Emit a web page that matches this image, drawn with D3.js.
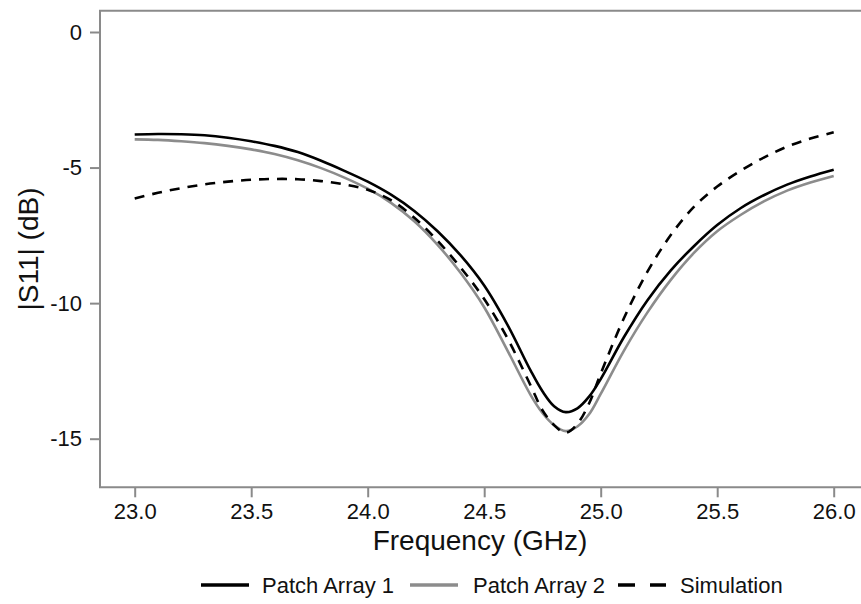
<!DOCTYPE html>
<html><head><meta charset="utf-8">
<script src="https://cdn.jsdelivr.net/npm/d3@7"></script>
<style>
html,body{margin:0;padding:0;background:#fff;}
svg{display:block;font-family:"Liberation Sans",Arial,sans-serif;}
</style></head>
<body><svg id="c" width="861" height="604"></svg>
<script>
const freq = [23.0,23.1,23.2,23.3,23.4,23.5,23.6,23.7,23.8,23.9,24.0,24.1,24.2,24.3,24.4,24.5,24.6,24.7,24.75,24.8,24.85,24.9,24.95,25.0,25.1,25.2,25.3,25.4,25.5,25.6,25.7,25.8,25.9,26.0];
const patchArray1 = [-3.78,-3.76,-3.77,-3.81,-3.90,-4.03,-4.20,-4.43,-4.75,-5.12,-5.52,-6.0,-6.6,-7.35,-8.25,-9.35,-10.8,-12.5,-13.25,-13.8,-14.02,-13.88,-13.45,-12.8,-11.25,-9.9,-8.8,-7.9,-7.12,-6.5,-6.02,-5.63,-5.33,-5.08];
const patchArray2 = [-3.96,-3.98,-4.03,-4.10,-4.20,-4.33,-4.50,-4.73,-5.02,-5.37,-5.78,-6.3,-6.98,-7.85,-8.9,-10.15,-11.75,-13.4,-14.05,-14.5,-14.72,-14.55,-14.1,-13.35,-11.75,-10.35,-9.15,-8.15,-7.35,-6.75,-6.25,-5.85,-5.55,-5.31];
const simulation = [-6.14,-5.93,-5.76,-5.62,-5.52,-5.45,-5.42,-5.43,-5.50,-5.62,-5.82,-6.2,-6.85,-7.7,-8.7,-9.85,-11.3,-13.05,-13.95,-14.5,-14.78,-14.45,-13.7,-12.6,-10.55,-8.85,-7.5,-6.45,-5.7,-5.12,-4.63,-4.23,-3.93,-3.7];
const xTicks = [23.0,23.5,24.0,24.5,25.0,25.5,26.0];
const yTicks = [0,-5,-10,-15];
const seriesNames = ["Patch Array 1","Patch Array 2","Simulation"];

const svg = d3.select("#c");
const pLeft = 100, pRight = 861, pTop = 10.7, pBottom = 487.3;
const x = d3.scaleLinear().domain([23,26]).range([134.7,833.7]);
const y = d3.scaleLinear().domain([0,-15]).range([32,438.7]);
const axisColor = "#8a8a8a";

// axes
const gx = svg.append("g").attr("transform",`translate(0,${pBottom})`)
  .call(d3.axisBottom(x).tickValues(xTicks).tickFormat(d3.format(".1f")).tickSize(10).tickSizeOuter(0).tickPadding(6));
const gy = svg.append("g").attr("transform",`translate(${pLeft},0)`)
  .call(d3.axisLeft(y).tickValues(yTicks).tickFormat(d=>String(d)).tickSize(10).tickSizeOuter(0).tickPadding(8));
[gx,gy].forEach(g=>{
  g.select(".domain").remove();
  g.selectAll(".tick line").attr("stroke",axisColor).attr("stroke-width",2);
  g.selectAll(".tick text").attr("fill","#111").attr("font-size",22).attr("font-family","Liberation Sans, Arial, sans-serif");
});
// frame lines
svg.append("line").attr("x1",pLeft).attr("x2",pLeft).attr("y1",pTop).attr("y2",pBottom).attr("stroke",axisColor).attr("stroke-width",2);
svg.append("line").attr("x1",pLeft-1).attr("x2",pRight).attr("y1",pBottom).attr("y2",pBottom).attr("stroke",axisColor).attr("stroke-width",2);
svg.append("line").attr("x1",pLeft-1).attr("x2",pRight).attr("y1",pTop).attr("y2",pTop).attr("stroke",axisColor).attr("stroke-width",2);

// titles
svg.append("text").attr("x",480).attr("y",550).attr("text-anchor","middle").attr("font-size",28).attr("fill","#111").text("Frequency (GHz)");
svg.append("text").attr("transform",`translate(38,249) rotate(-90)`).attr("text-anchor","middle").attr("font-size",28).attr("fill","#111").text("|S11| (dB)");

// lines
const styles = [
  {data:patchArray1, color:"#000", width:2.6, dash:null},
  {data:patchArray2, color:"#8c8c8c", width:2.6, dash:null},
  {data:simulation, color:"#000", width:2.6, dash:"10,8"}
];
const line = d3.line().curve(d3.curveCatmullRom.alpha(0.5)).x(d=>x(d[0])).y(d=>y(d[1]));
styles.forEach(s=>{
  svg.append("path").datum(freq.map((f,i)=>[f,s.data[i]]))
    .attr("d",line).attr("fill","none").attr("stroke",s.color).attr("stroke-width",s.width)
    .attr("stroke-dasharray",s.dash);
});

// legend
const legY = 585;
const legItems = [
  {x1:201,x2:249,tx:262},
  {x1:410,x2:458,tx:473},
  {x1:618,x2:666,tx:680}
];
legItems.forEach((l,i)=>{
  const s = styles[i];
  svg.append("line").attr("x1",l.x1).attr("x2",l.x2).attr("y1",legY).attr("y2",legY)
    .attr("stroke",s.color).attr("stroke-width",3.5).attr("stroke-dasharray",s.dash?"17,15":null);
  svg.append("text").attr("x",l.tx).attr("y",legY).attr("dy","0.35em").attr("font-size",22).attr("fill","#111").text(seriesNames[i]);
});
</script></body></html>
